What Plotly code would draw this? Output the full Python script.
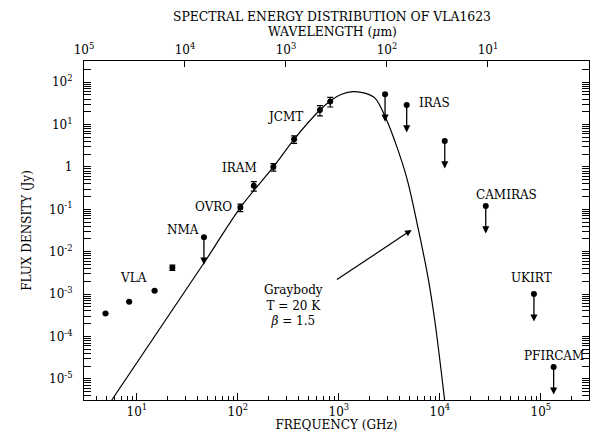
import numpy as np
import plotly.graph_objects as go

# Detections (GHz, Jy) with 1-sigma errors
det_nu = [4.9, 8.4, 15.0, 22.5, 106, 144, 225, 361, 650, 822]
det_flux = [3.5e-4, 6.6e-4, 1.2e-3, 4.2e-3, 0.11, 0.36, 1.0, 4.5, 22, 35]
det_err = [0, 0, 0, 0.6e-3, 0.022, 0.09, 0.2, 0.9, 6, 9]

# Upper limits (GHz, Jy)
ul_nu = [46.2, 2870, 4700, 11200, 28500, 85500, 134000]
ul_flux = [0.022, 52, 29, 4.1, 0.12, 1.0e-3, 1.9e-5]

# Graybody model curve (T = 20 K, beta = 1.5)
gb_nu = [5.65, 46.2, 106, 225, 361, 650, 847, 1065, 1390, 1815, 2282,
         2972, 3603, 4700, 6140, 7710, 8980, 11150]
gb_flux = [3.16e-6, 5.4e-3, 0.11, 1.0, 4.5, 22, 38, 52, 60, 55, 42,
           12.8, 3.95, 0.56, 0.033, 2.2e-3, 2.1e-4, 3.16e-6]

# Instrument labels: (text, log10 nu, log10 S)
inst_labels = [("VLA", 0.968, -2.625), ("NMA", 1.456, -1.486),
               ("OVRO", 1.764, -0.936), ("IRAM", 2.019, -0.017),
               ("JCMT", 2.465, 1.186), ("IRAS", 3.946, 1.502),
               ("CAMIRAS", 4.664, -0.66), ("UKIRT", 4.912, -2.625),
               ("PFIRCAM", 5.127, -4.458)]

y_ticks = [1e-5, 1e-4, 1e-3, 1e-2, 1e-1, 1, 10, 100]
y_text = ["10<sup>-5</sup>", "10<sup>-4</sup>", "10<sup>-3</sup>", "10<sup>-2</sup>",
          "10<sup>-1</sup>", "1", "10<sup>1</sup>", "10<sup>2</sup>"]
x_ticks = [10, 100, 1e3, 1e4, 1e5]
x_text = ["10<sup>1</sup>", "10<sup>2</sup>", "10<sup>3</sup>", "10<sup>4</sup>", "10<sup>5</sup>"]
wl_ticks = [1e5, 1e4, 1e3, 1e2, 10, 1]
wl_text = ["10<sup>5</sup>", "10<sup>4</sup>", "10<sup>3</sup>", "10<sup>2</sup>", "10<sup>1</sup>", "1"]

C_UM_GHZ = 2.998e5  # wavelength [um] = C / frequency [GHz]
FONT = "DejaVu Serif"
ARROW_DEX = 0.65

fig = go.Figure()

fig.add_trace(go.Scatter(x=gb_nu, y=gb_flux, mode="lines", line_shape="spline",
                         line=dict(color="black", width=1.2), showlegend=False))

fig.add_trace(go.Scatter(
    x=det_nu, y=det_flux, mode="markers",
    marker=dict(color="black", size=6),
    error_y=dict(type="data", array=det_err, color="black", thickness=1.2, width=3),
    showlegend=False))

fig.add_trace(go.Scatter(x=ul_nu, y=ul_flux, mode="markers",
                         marker=dict(color="black", size=6), showlegend=False))

# same limits on the wavelength scale (invisible) so the top axis is drawn
fig.add_trace(go.Scatter(x=[C_UM_GHZ / n for n in ul_nu], y=ul_flux, xaxis="x2",
                         mode="markers", marker=dict(opacity=0), hoverinfo="skip",
                         showlegend=False))

annotations = []
for nu, s in zip(ul_nu, ul_flux):
    annotations.append(dict(
        x=np.log10(nu), y=np.log10(s) - ARROW_DEX, xref="x", yref="y",
        ax=np.log10(nu), ay=np.log10(s), axref="x", ayref="y",
        text="", showarrow=True, arrowhead=2, arrowsize=1.1,
        arrowwidth=1.3, arrowcolor="black"))

for txt, lx, ly in inst_labels:
    annotations.append(dict(x=lx, y=ly, xref="x", yref="y", text=txt,
                            showarrow=False, font=dict(family=FONT, size=12, color="black")))

annotations.append(dict(x=2.548, y=-3.278, xref="x", yref="y",
                        text="Graybody<br>T = 20 K<br><i>β</i> = 1.5",
                        showarrow=False, align="center",
                        font=dict(family=FONT, size=12, color="black")))
annotations.append(dict(x=3.721, y=-1.486, xref="x", yref="y",
                        ax=2.967, ay=-2.682, axref="x", ayref="y",
                        text="", showarrow=True, arrowhead=2, arrowsize=1.1,
                        arrowwidth=1.2, arrowcolor="black"))

annotations.append(dict(x=0.492, y=1.13, xref="paper", yref="paper", yanchor="middle",
                        text="SPECTRAL ENERGY DISTRIBUTION OF VLA1623",
                        showarrow=False, font=dict(family=FONT, size=12.4, color="black")))
annotations.append(dict(x=0.492, y=1.086, xref="paper", yref="paper", yanchor="middle",
                        text="WAVELENGTH (<i>μ</i>m)",
                        showarrow=False, font=dict(family=FONT, size=12.4, color="black")))

axis_font = dict(family=FONT, size=12, color="black")

fig.update_layout(
    width=591, height=434,
    margin=dict(l=84, r=2, t=61, b=34),
    plot_bgcolor="white", paper_bgcolor="white",
    font=axis_font,
    annotations=annotations,
    xaxis=dict(type="log", range=[np.log10(3), np.log10(3e5)], automargin=False,
               tickmode="array", tickvals=x_ticks, ticktext=x_text,
               ticks="inside", ticklen=7, tickwidth=1, tickcolor="black",
               minor=dict(ticks="inside", ticklen=4, dtick="D1", tickcolor="black"),
               showline=True, linecolor="black", linewidth=1.2, mirror=True,
               showgrid=False, zeroline=False,
               title=dict(text="FREQUENCY (GHz)", font=axis_font, standoff=2)),
    xaxis2=dict(type="log", range=[np.log10(C_UM_GHZ / 3), np.log10(C_UM_GHZ / 3e5)],
                overlaying="x", side="top", anchor="y", automargin=False,
                tickmode="array", tickvals=wl_ticks, ticktext=wl_text,
                ticks="inside", ticklen=6, tickcolor="black", ticklabelstandoff=4,
                showline=False, showgrid=False, zeroline=False),
    yaxis=dict(type="log", range=[-5.5, 2.5], automargin=False,
               tickmode="array", tickvals=y_ticks, ticktext=y_text,
               ticks="inside", ticklen=7, tickwidth=1, tickcolor="black",
               minor=dict(ticks="inside", ticklen=4, dtick="D1", tickcolor="black"),
               showline=True, linecolor="black", linewidth=1.2, mirror="allticks",
               showgrid=False, zeroline=False, ticklabelstandoff=8,
               title=dict(text="FLUX DENSITY (Jy)", font=axis_font, standoff=14)),
)

fig.write_html("out.html")
